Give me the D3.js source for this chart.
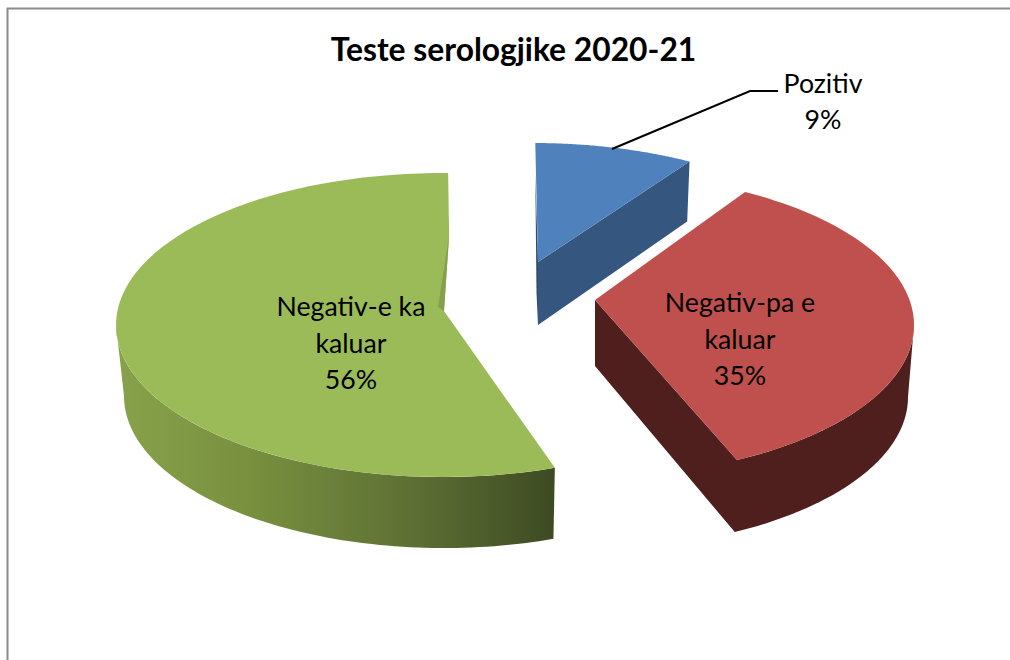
<!DOCTYPE html>
<html>
<head>
<meta charset="utf-8">
<script src="https://cdn.jsdelivr.net/npm/d3@7"></script>
<style>html,body{margin:0;padding:0;background:#fff}svg{display:block}text{font-family:Lato,"Open Sans",sans-serif;fill:#000}</style>
</head>
<body>
<svg id="c" width="1010" height="660"></svg>
<script>
const titleText = "Teste serologjike 2020-21";
const categories = ["Pozitiv", "Negativ-pa e kaluar", "Negativ-e ka kaluar"];
const values = [9, 35, 56];
const percentLabels = ["9%", "35%", "56%"];
const labelLines = [["Pozitiv"], ["Negativ-pa e", "kaluar"], ["Negativ-e ka", "kaluar"]];
const topColors = ["#4F81BD", "#C0504D", "#9BBB59"];
const sideColors = ["#34567F", "#4F1F1D", "url(#greenSide)"];

// layout of the exploded, tilted pie (one entry per slice)
const RX = 327, RY = 152, RX_BOTTOM = 320;
const centers = [[533, 295], [587, 325], [443, 325]];
const apexes = [[538, 262], [595, 300], [444, 311]];
const depths = [60, 72, 71];
const apexDepths = [63, 66, 72];
const shownSpans = [[0.4, 28.6], [28.9, 152.7], [160, 360.9]];
const labelPos = [[823, 92.5], [740, 312], [351, 316]];
const labelStep = 36.5;

const svg = d3.select("#c");
const defs = svg.append("defs");
const grad = defs.append("linearGradient").attr("id", "greenSide")
  .attr("gradientUnits", "userSpaceOnUse").attr("x1", 116).attr("x2", 556).attr("y1", 0).attr("y2", 0);
[[0, "#87A24B"], [0.3, "#79903F"], [0.65, "#5F7235"], [1, "#3D4A22"]].forEach(s =>
  grad.append("stop").attr("offset", s[0]).attr("stop-color", s[1]));

// frame
svg.append("path").attr("d", d3.line()([[7.5, 660], [7.5, 8.5], [1010, 8.5]]))
  .attr("fill", "none").attr("stroke", "#8a8a8a").attr("stroke-width", 2);

const pie = d3.pie().sort(null).startAngle(0).endAngle(2 * Math.PI);
const arcs = pie(values);
const rad = d => d * Math.PI / 180;
const line = d3.line();

arcs.forEach((a, i) => {
  const [cx, cy] = centers[i];
  const [ax, ay] = apexes[i];
  const warp = d3.scaleLinear().domain([a.startAngle, a.endAngle]).range(shownSpans[i]);
  const top = deg => [cx + RX * Math.sin(rad(deg)), cy - RY * Math.cos(rad(deg))];
  const bot = deg => [cx + 1 + RX_BOTTOM * Math.sin(rad(deg)), cy + depths[i] - RY * Math.cos(rad(deg))];
  const phi0 = warp(a.startAngle), phi1 = warp(a.endAngle);
  const samples = (f, from, to) => d3.range(0, 81).map(k => f(from + (to - from) * k / 80));
  const g = svg.append("g").attr("class", "slice").attr("data-name", categories[i]);
  const apexBottom = [ax, ay + apexDepths[i]];
  const rimEnd = top(phi1);
  const notch = [rimEnd[0] + 1, rimEnd[1] + 62];

  if (i === 0) {
    // right cut face
    g.append("path").attr("fill", sideColors[i])
      .attr("d", line([top(phi1), bot(phi1), [ax, ay + apexDepths[i]], [ax, ay]]) + "Z");
  }
  if (i === 1) {
    // cut face plus outer wall
    g.append("path").attr("fill", sideColors[i])
      .attr("d", line([[ax, ay], top(phi1), ...samples(top, phi1, 90),
        ...samples(bot, 90, phi1), apexBottom]) + "Z");
  }
  if (i === 2) {
    g.append("path").attr("fill", sideColors[i])
      .attr("d", line([...samples(top, phi0, 270), ...samples(bot, 270, phi0)]) + "Z");
  }
  const rimPoints = samples(top, phi0, phi1);
  g.append("path").attr("fill", topColors[i])
    .attr("d", line(i === 2 ? [[ax, ay], ...rimPoints, notch] : [[ax, ay], ...rimPoints]) + "Z");
  if (i === 2) {
    // sliver of the inner cut face
    g.append("path").attr("fill", "#84A04A")
      .attr("d", line([notch, [ax - 6, ay - 4], [ax, ay]]) + "Z");
  }
  if (i === 0) {
    const rim = top(phi0);
    g.append("path").attr("fill", "#2C4A70")
      .attr("d", line([[rim[0], rim[1] + 30], [ax - 1.5, ay + 30], [ax, ay + apexDepths[i]], [ax, ay]]) + "Z");
  }
  // data label
  const lines = [...labelLines[i], percentLabels[i]];
  const t = svg.append("text").attr("text-anchor", "middle").attr("font-size", 26.7);
  lines.forEach((s, k) => t.append("tspan").attr("x", labelPos[i][0]).attr("y", labelPos[i][1] + k * labelStep).text(s));
});

// leader line
svg.append("path").attr("d", line([[612, 149], [750, 91], [778, 91]]))
  .attr("fill", "none").attr("stroke", "#000").attr("stroke-width", 2);

svg.append("text").attr("x", 513.5).attr("y", 61).attr("text-anchor", "middle")
  .attr("font-size", 31.8).attr("font-weight", 700).text(titleText);
</script>
</body>
</html>
